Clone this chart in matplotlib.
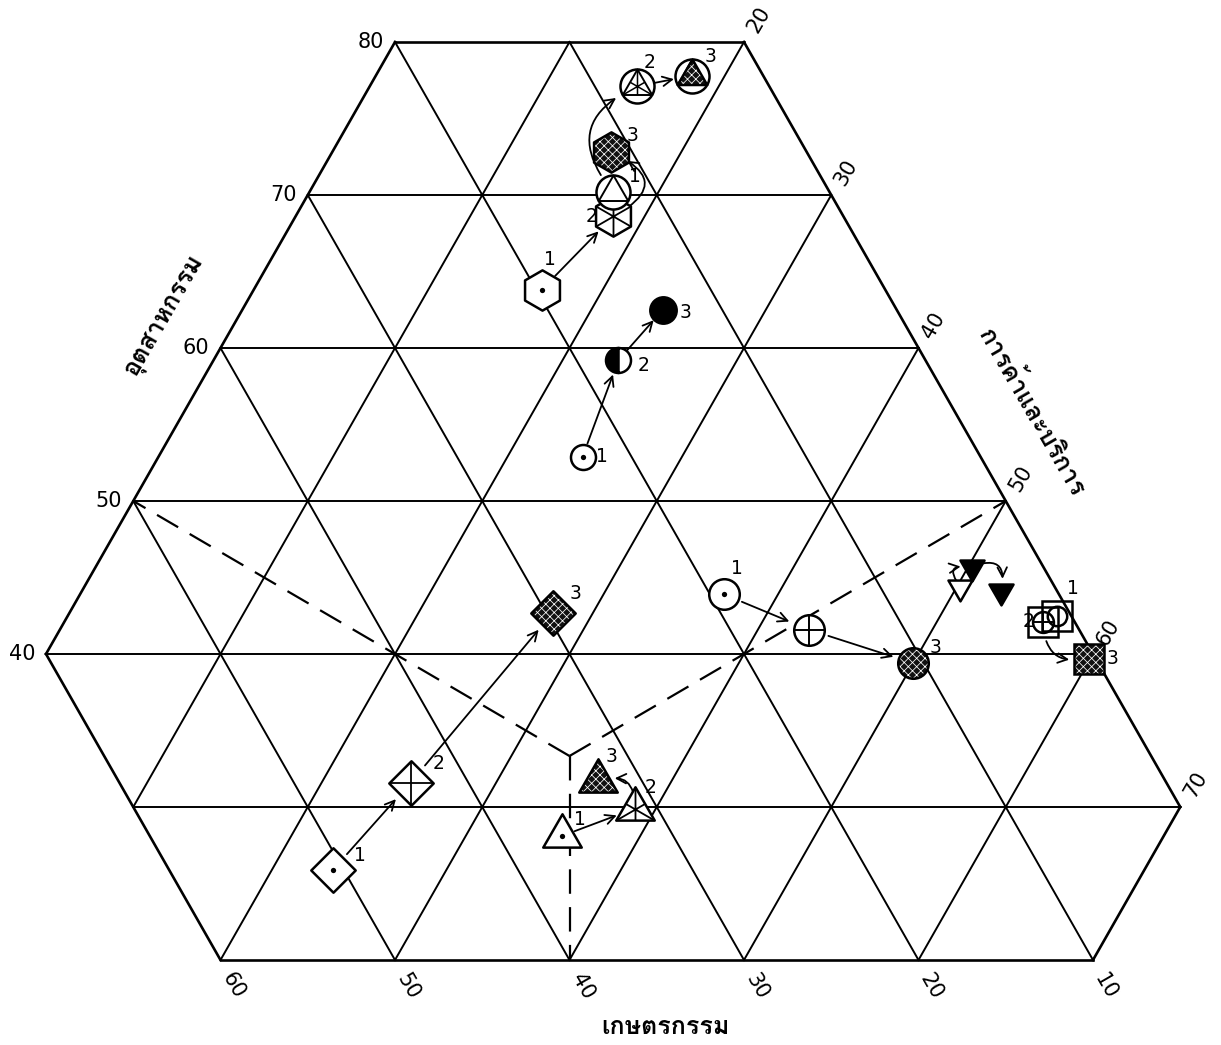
import numpy as np
import matplotlib
matplotlib.use("Agg")
import matplotlib.pyplot as plt
from matplotlib.path import Path
import matplotlib.font_manager as fm
from matplotlib.ft2font import FT2Font

plt.rcParams['hatch.color'] = 'white'
plt.rcParams['hatch.linewidth'] = 0.55

# look for a font that has Thai glyphs
thai_font = 'DejaVu Sans'
for f in fm.fontManager.ttflist:
    try:
        if 0x0E01 in FT2Font(f.fname).get_charmap() and 'Bold' not in f.fname:
            thai_font = f.name
            break
    except Exception:
        pass

# stages 1, 2, 3 : industry % and trade/services % (agriculture = rest)
circ_I = [52.9, 59.2, 62.5]
circ_T = [24.3, 23.2, 24.1]
hex_I = [63.8, 68.6, 72.8]
hex_T = [16.5, 18.2, 16.0]
ctri_I = [70.2, 77.1, 77.8]
ctri_T = [17.4, 15.3, 18.1]
dia_I = [25.9, 31.6, 42.7]
dia_T = [23.5, 25.1, 27.7]
tri_I = [28.1, 29.9, 31.7]
tri_T = [35.5, 38.8, 35.8]
ring_I = [43.9, 41.6, 39.4]
ring_T = [36.9, 42.9, 50.0]
itri_I = [44.4, 45.7, 44.1]
itri_T = [50.2, 50.2, 52.7]
sq_I = [42.5, 42.1, 39.7]
sq_T = [56.7, 56.1, 59.9]

ind_ticks = [80, 70, 60, 50, 40]
trade_ticks = [20, 30, 40, 50, 60, 70]
agri_ticks = [60, 50, 40, 30, 20, 10]

title_ind = 'อุตสาหกรรม'
title_trade = 'การค้าและบริการ'
title_agri = 'เกษตรกรรม'

SQ3 = np.sqrt(3) / 2


def tern(I, T):
    I = np.asarray(I, float)
    T = np.asarray(T, float)
    A = 100 - I - T
    return (T - A) / 2, I * SQ3


W, H = 1221, 1045
fig = plt.figure(figsize=(W / 100, H / 100), dpi=100)
ax = fig.add_axes([0, 0, 1, 1])
x0, sx = 569.5, 17.45
y80, sy = 42, 15.3 / SQ3
ax.set_xlim(-x0 / sx, (W - x0) / sx)
ax.set_ylim(80 * SQ3 - (H - y80) / sy, 80 * SQ3 + y80 / sy)
ax.axis('off')

# triangular grid clipped to the hexagon
lw_in, lw_out = 1.4, 1.9
for i in range(20, 81, 10):
    x, y = tern([i, i], [max(0, 40 - i), min(70, 100 - i)])
    ax.plot(x, y, color='black', lw=lw_out if i in (20, 80) else lw_in, zorder=1)
for t in range(0, 71, 10):
    x, y = tern([max(20, 40 - t), min(80, 100 - t)], [t, t])
    ax.plot(x, y, color='black', lw=lw_out if t in (0, 70) else lw_in, zorder=1)
for a in range(0, 61, 10):
    ii = np.array([max(20, 30 - a), min(80, 100 - a)])
    x, y = tern(ii, 100 - a - ii)
    ax.plot(x, y, color='black', lw=lw_out if a in (0, 60) else lw_in, zorder=1)

# dashed boundaries from the centre
c = 100 / 3
for ei, et in [(50, 0), (50, 50), (20, 40)]:
    x, y = tern([c, ei], [c, et])
    ax.plot(x, y, color='black', lw=1.6, dashes=(11, 6), zorder=1)

# axis numbers
for v in ind_ticks:
    x, y = tern(v, 0)
    ax.annotate(str(v), (x, y), xytext=(-11, 0), textcoords='offset pixels',
                ha='right', va='center', fontsize=15)
for v in trade_ticks:
    x, y = tern(100 - v, v)
    ax.annotate(str(v), (x, y), xytext=(15, 22), textcoords='offset pixels',
                ha='center', va='center', fontsize=15, rotation=60)
for v in agri_ticks:
    x, y = tern(20, 80 - v)
    ax.annotate(str(v), (x, y), xytext=(13, -26), textcoords='offset pixels',
                ha='center', va='center', fontsize=15, rotation=-60)

fam = [thai_font, 'DejaVu Sans']
fig.text(165 / W, 1 - 315 / H, title_ind, rotation=60, ha='center', va='center',
         fontsize=18, family=fam, fontweight='bold')
fig.text(1032 / W, 1 - 412 / H, title_trade, rotation=-60, ha='center', va='center',
         fontsize=18, family=fam, fontweight='bold')
fig.text(665 / W, 1 - 1028 / H, title_agri, ha='center', va='center',
         fontsize=18, family=fam, fontweight='bold')


# marker shapes
def poly(n, rot=90):
    ang = np.deg2rad(rot + 360 * np.arange(n) / n)
    return np.c_[np.cos(ang), np.sin(ang)]


def closed(V):
    return Path(np.vstack([V, V[:1]]), closed=True)


def segs(pairs):
    verts, codes = [], []
    for p, q in pairs:
        verts += [p, q]
        codes += [Path.MOVETO, Path.LINETO]
    return Path(verts, codes)


TV = poly(3)
tri = closed(TV)
itri = closed(poly(3, -90))
hexa = closed(poly(6))
dia = closed(poly(4))
medians = segs([(TV[k], -TV[k] / 2) for k in range(3)])
HV = poly(6)
spokes = segs([(HV[k], HV[k + 3]) for k in range(3)])
dcross = segs([((0, 1), (0, -1)), ((-1, 0), (1, 0))])


def pt(x, y, m, ms, fc='white', z=4, mew=1.8, **kw):
    ax.plot([x], [y], ls='none', marker=m, ms=ms, mfc=fc, mec='black',
            mew=mew, zorder=z, **kw)


def hatched(x, y, m, ms, z=4):
    ax.scatter([x], [y], s=ms ** 2, marker=m, facecolor='#111111',
               edgecolor='white', hatch='xxxx', linewidths=0, zorder=z)
    pt(x, y, m, ms, fc='none', z=z + 0.1)


def arrow(xs, ys, i, j, rad=0.0, sa=11, sb=11):
    ax.annotate('', xy=(xs[j], ys[j]), xytext=(xs[i], ys[i]),
                arrowprops=dict(arrowstyle='->', color='black', lw=1.3,
                                shrinkA=sa, shrinkB=sb, mutation_scale=17,
                                connectionstyle=f'arc3,rad={rad}'), zorder=3)


def lab(xs, ys, k, text, dx, dy):
    ax.annotate(text, (xs[k], ys[k]), xytext=(dx, dy), textcoords='offset pixels',
                ha='center', va='center', fontsize=13.5, zorder=6)


dot = 3.8

# circles: dot -> half filled -> filled
xs, ys = tern(circ_I, circ_T)
pt(xs[0], ys[0], 'o', 18); pt(xs[0], ys[0], 'o', dot, fc='black', mew=0)
pt(xs[1], ys[1], 'o', 18, fc='black', fillstyle='left', markerfacecoloralt='white')
pt(xs[2], ys[2], 'o', 19, fc='black')
arrow(xs, ys, 0, 1, sa=10, sb=11); arrow(xs, ys, 1, 2, sa=9, sb=10)
for k, (dx, dy) in enumerate([(19, 0), (25, -5), (23, -3)]):
    lab(xs, ys, k, str(k + 1), dx, dy)

# hexagons
xs, ys = tern(hex_I, hex_T)
pt(xs[0], ys[0], hexa, 29); pt(xs[0], ys[0], 'o', dot, fc='black', mew=0)
pt(xs[1], ys[1], hexa, 29); pt(xs[1], ys[1], spokes, 29, fc='none', mew=1.3)
hatched(xs[2], ys[2], hexa, 29)
arrow(xs, ys, 0, 1, sa=14, sb=15); arrow(xs, ys, 1, 2, rad=1.0, sa=13, sb=13)
for k, (dx, dy) in enumerate([(8, 30), (-22, 0), (21, 17)]):
    lab(xs, ys, k, str(k + 1), dx, dy)

# circled triangles
xs, ys = tern(ctri_I, ctri_T)
pt(xs[0], ys[0], 'o', 24.5, z=5); pt(xs[0], ys[0], tri, 24.5, fc='none', mew=1.4, z=5)
pt(xs[1], ys[1], 'o', 24.5, z=5); pt(xs[1], ys[1], tri, 24.5, fc='none', mew=1.4, z=5)
pt(xs[1], ys[1], medians, 24.5, fc='none', mew=1.1, z=5)
pt(xs[2], ys[2], 'o', 24.5, z=5); hatched(xs[2], ys[2], tri, 24.5, z=5.2)
arrow(xs, ys, 0, 1, rad=-0.65, sa=15, sb=17); arrow(xs, ys, 1, 2, sa=13, sb=13)
for k, (dx, dy) in enumerate([(22, 15), (13, 24), (19, 19)]):
    lab(xs, ys, k, str(k + 1), dx, dy)

# diamonds
xs, ys = tern(dia_I, dia_T)
pt(xs[0], ys[0], dia, 32); pt(xs[0], ys[0], 'o', dot, fc='black', mew=0)
pt(xs[1], ys[1], dia, 32); pt(xs[1], ys[1], dcross, 32, fc='none', mew=1.3)
hatched(xs[2], ys[2], dia, 32)
arrow(xs, ys, 0, 1, sa=15, sb=16); arrow(xs, ys, 1, 2, sa=16, sb=16)
for k, (dx, dy) in enumerate([(27, 14), (28, 19), (23, 19)]):
    lab(xs, ys, k, str(k + 1), dx, dy)

# triangles
xs, ys = tern(tri_I, tri_T)
pt(xs[0], ys[0], tri, 32); pt(xs[0], ys[0], 'o', dot, fc='black', mew=0)
pt(xs[1], ys[1], tri, 32); pt(xs[1], ys[1], medians, 32, fc='none', mew=1.3)
hatched(xs[2], ys[2], tri, 32)
arrow(xs, ys, 0, 1, sa=10, sb=14); arrow(xs, ys, 1, 2, rad=0.7, sa=12, sb=12)
for k, (dx, dy) in enumerate([(18, 17), (16, 21), (13, 24)]):
    lab(xs, ys, k, str(k + 1), dx, dy)

# rings
xs, ys = tern(ring_I, ring_T)
pt(xs[0], ys[0], 'o', 22); pt(xs[0], ys[0], 'o', dot, fc='black', mew=0)
pt(xs[1], ys[1], 'o', 22); pt(xs[1], ys[1], '+', 22, mew=1.4)
hatched(xs[2], ys[2], 'o', 22)
arrow(xs, ys, 0, 1, sa=14, sb=15); arrow(xs, ys, 1, 2, sa=15, sb=15)
lab(xs, ys, 0, '1', 13, 26)
lab(xs, ys, 2, '3', 22, 16)

# inverted triangles
xs, ys = tern(itri_I, itri_T)
pt(xs[0], ys[0], itri, 20)
pt(xs[1], ys[1], itri, 20, fc='black', fillstyle='top', markerfacecoloralt='white')
pt(xs[2], ys[2], itri, 20, fc='black')
arrow(xs, ys, 0, 1, rad=-1.2, sa=5, sb=8); arrow(xs, ys, 1, 2, rad=-0.9, sa=9, sb=9)

# squares
xs, ys = tern(sq_I, sq_T)
pt(xs[1], ys[1], 's', 21.5); pt(xs[1], ys[1], 'o', 15); pt(xs[1], ys[1], '+', 15, mew=1.4)
pt(xs[0], ys[0], 's', 21.5, fc='none'); pt(xs[0], ys[0], 'o', 14, fc='none')
hatched(xs[2], ys[2], 's', 21.5)
arrow(xs, ys, 1, 2, rad=0.6, sa=14, sb=14)
for k, (dx, dy) in enumerate([(16, 27), (-15, 0), (24, 0)]):
    lab(xs, ys, k, str(k + 1), dx, dy)

fig.savefig('out.png', dpi=100, facecolor='white')
